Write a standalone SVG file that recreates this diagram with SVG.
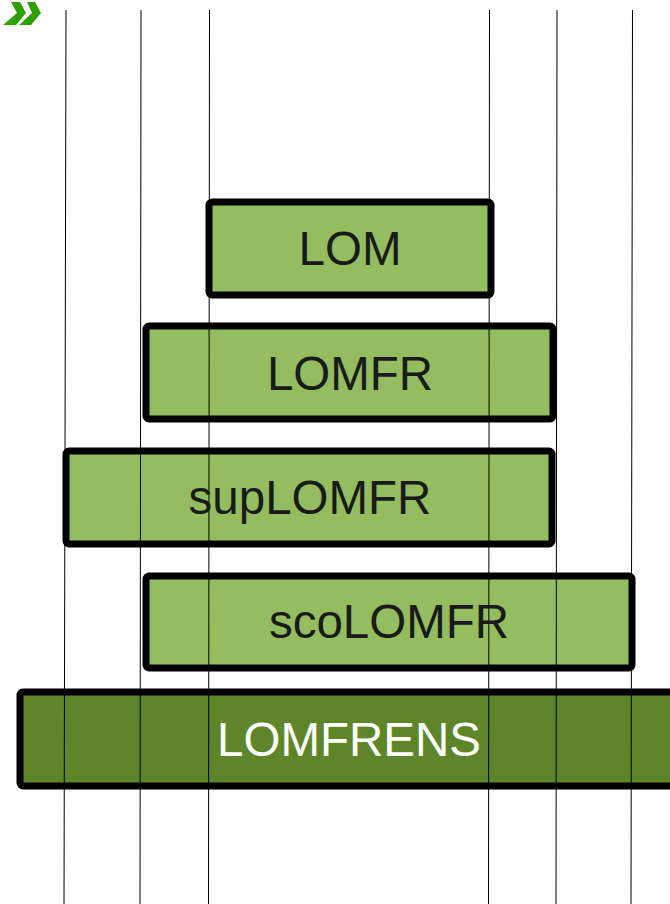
<svg xmlns="http://www.w3.org/2000/svg" width="670" height="904" viewBox="0 0 670 904">
<style>
.box{stroke:#000;stroke-width:7;stroke-linejoin:round}
.lt{fill:#93bd5e}
.dk{fill:#5e8527}
.t{font-family:"Liberation Sans",Arial,sans-serif;font-size:47.5px;text-anchor:middle;fill:#1a1a1a}
.w{fill:#fff}
.g{stroke:#000;stroke-width:1}
</style>
<rect width="670" height="904" fill="#fff"/>
<g id="logo" fill="#2ea000">
<polygon points="11,2 20,2 26,13 16,25 3,25 17,13"/>
<polygon points="27,2 35,2 41,13 31,25 19,25 32,13"/>
</g>
<g id="LOM"><rect class="box lt" x="209" y="202" width="282" height="93" rx="3"/></g>
<g id="LOMFR"><rect class="box lt" x="146" y="326" width="407" height="93" rx="3"/></g>
<g id="supLOMFR"><rect class="box lt" x="66" y="451" width="486" height="93" rx="3"/></g>
<g id="scoLOMFR"><rect class="box lt" x="146" y="576" width="486" height="92" rx="3"/></g>
<g id="LOMFRENS"><rect class="box dk" x="20" y="692" width="660" height="94" rx="3"/></g>
<g id="connectors">
<line class="g" x1="66" y1="10" x2="64" y2="904"/>
<line class="g" x1="141" y1="10" x2="140" y2="904"/>
<line class="g" x1="209.5" y1="10" x2="208.5" y2="904"/>
<line class="g" x1="489.5" y1="10" x2="488.5" y2="904"/>
<line class="g" x1="557" y1="10" x2="556" y2="904"/>
<line class="g" x1="632.5" y1="10" x2="631" y2="904"/>
</g>
<text class="t" x="350" y="265">LOM</text>
<text class="t" x="350" y="390">LOMFR</text>
<text class="t" x="310" y="514">supLOMFR</text>
<text class="t" x="389" y="638">scoLOMFR</text>
<text class="t w" x="349" y="756">LOMFRENS</text>
</svg>
